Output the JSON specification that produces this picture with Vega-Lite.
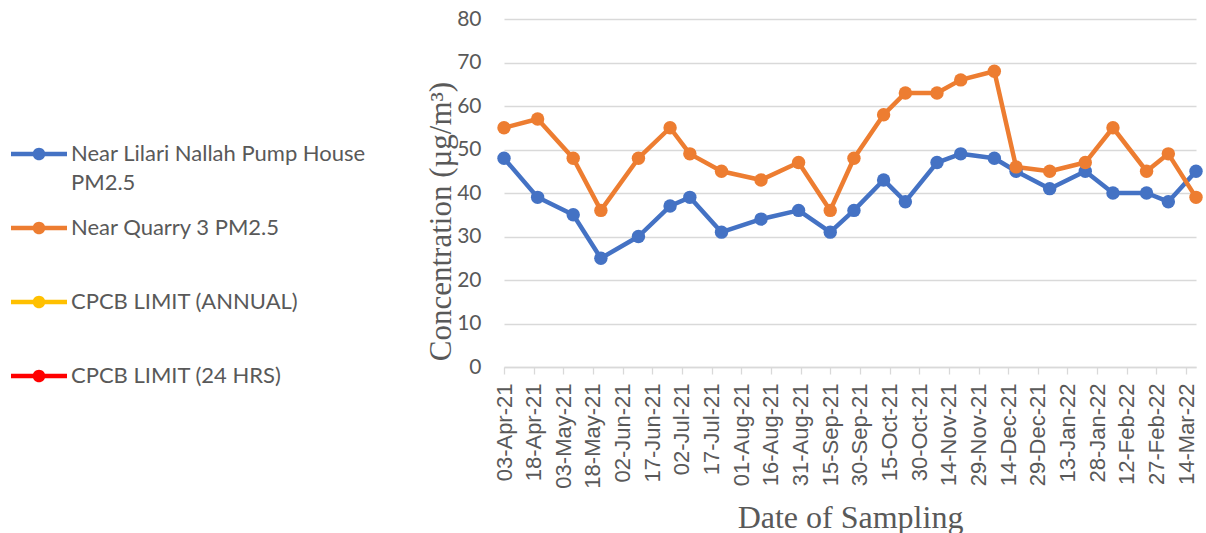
{
  "$schema": "https://vega.github.io/schema/vega-lite/v6.json",
  "autosize": {"type": "none"},
  "padding": {"left": 504, "top": 19, "right": 10, "bottom": 166},
  "width": 692,
  "height": 348,
  "background": "white",
  "config": {
    "view": {"stroke": null},
    "style": {"guide-label": {"lineHeight": 29}},
    "legend": {
      "title": null,
      "orient": "none",
      "legendX": -476,
      "legendY": 124,
      "padding": 0,
      "direction": "vertical",
      "symbolType": "M-4,-0.32H4V0.32H-4Z M-0.9,0A0.9,0.9,0,1,1,0.9,0A0.9,0.9,0,1,1,-0.9,0Z",
      "symbolSize": 196,
      "symbolStrokeWidth": 0,
      "symbolOpacity": 1,
      "labelFont": "Lato",
      "labelFontSize": 22,
      "labelColor": "#595959",
      "labelOffset": 21,
      "labelLimit": 400,
      "labelBaseline": "middle",
      "rowPadding": 23
    }
  },
  "data": {"values": [
    {"date": "2021-04-03", "series": "Near Lilari Nallah Pump House PM2.5", "value": 48},
    {"date": "2021-04-20", "series": "Near Lilari Nallah Pump House PM2.5", "value": 39},
    {"date": "2021-05-08", "series": "Near Lilari Nallah Pump House PM2.5", "value": 35},
    {"date": "2021-05-22", "series": "Near Lilari Nallah Pump House PM2.5", "value": 25},
    {"date": "2021-06-10", "series": "Near Lilari Nallah Pump House PM2.5", "value": 30},
    {"date": "2021-06-26", "series": "Near Lilari Nallah Pump House PM2.5", "value": 37},
    {"date": "2021-07-06", "series": "Near Lilari Nallah Pump House PM2.5", "value": 39},
    {"date": "2021-07-22", "series": "Near Lilari Nallah Pump House PM2.5", "value": 31},
    {"date": "2021-08-11", "series": "Near Lilari Nallah Pump House PM2.5", "value": 34},
    {"date": "2021-08-30", "series": "Near Lilari Nallah Pump House PM2.5", "value": 36},
    {"date": "2021-09-15", "series": "Near Lilari Nallah Pump House PM2.5", "value": 31},
    {"date": "2021-09-27", "series": "Near Lilari Nallah Pump House PM2.5", "value": 36},
    {"date": "2021-10-12", "series": "Near Lilari Nallah Pump House PM2.5", "value": 43},
    {"date": "2021-10-23", "series": "Near Lilari Nallah Pump House PM2.5", "value": 38},
    {"date": "2021-11-08", "series": "Near Lilari Nallah Pump House PM2.5", "value": 47},
    {"date": "2021-11-20", "series": "Near Lilari Nallah Pump House PM2.5", "value": 49},
    {"date": "2021-12-07", "series": "Near Lilari Nallah Pump House PM2.5", "value": 48},
    {"date": "2021-12-18", "series": "Near Lilari Nallah Pump House PM2.5", "value": 45},
    {"date": "2022-01-04", "series": "Near Lilari Nallah Pump House PM2.5", "value": 41},
    {"date": "2022-01-22", "series": "Near Lilari Nallah Pump House PM2.5", "value": 45},
    {"date": "2022-02-05", "series": "Near Lilari Nallah Pump House PM2.5", "value": 40},
    {"date": "2022-02-22", "series": "Near Lilari Nallah Pump House PM2.5", "value": 40},
    {"date": "2022-03-05", "series": "Near Lilari Nallah Pump House PM2.5", "value": 38},
    {"date": "2022-03-19", "series": "Near Lilari Nallah Pump House PM2.5", "value": 45},
    {"date": "2021-04-03", "series": "Near Quarry 3 PM2.5", "value": 55},
    {"date": "2021-04-20", "series": "Near Quarry 3 PM2.5", "value": 57},
    {"date": "2021-05-08", "series": "Near Quarry 3 PM2.5", "value": 48},
    {"date": "2021-05-22", "series": "Near Quarry 3 PM2.5", "value": 36},
    {"date": "2021-06-10", "series": "Near Quarry 3 PM2.5", "value": 48},
    {"date": "2021-06-26", "series": "Near Quarry 3 PM2.5", "value": 55},
    {"date": "2021-07-06", "series": "Near Quarry 3 PM2.5", "value": 49},
    {"date": "2021-07-22", "series": "Near Quarry 3 PM2.5", "value": 45},
    {"date": "2021-08-11", "series": "Near Quarry 3 PM2.5", "value": 43},
    {"date": "2021-08-30", "series": "Near Quarry 3 PM2.5", "value": 47},
    {"date": "2021-09-15", "series": "Near Quarry 3 PM2.5", "value": 36},
    {"date": "2021-09-27", "series": "Near Quarry 3 PM2.5", "value": 48},
    {"date": "2021-10-12", "series": "Near Quarry 3 PM2.5", "value": 58},
    {"date": "2021-10-23", "series": "Near Quarry 3 PM2.5", "value": 63},
    {"date": "2021-11-08", "series": "Near Quarry 3 PM2.5", "value": 63},
    {"date": "2021-11-20", "series": "Near Quarry 3 PM2.5", "value": 66},
    {"date": "2021-12-07", "series": "Near Quarry 3 PM2.5", "value": 68},
    {"date": "2021-12-18", "series": "Near Quarry 3 PM2.5", "value": 46},
    {"date": "2022-01-04", "series": "Near Quarry 3 PM2.5", "value": 45},
    {"date": "2022-01-22", "series": "Near Quarry 3 PM2.5", "value": 47},
    {"date": "2022-02-05", "series": "Near Quarry 3 PM2.5", "value": 55},
    {"date": "2022-02-22", "series": "Near Quarry 3 PM2.5", "value": 45},
    {"date": "2022-03-05", "series": "Near Quarry 3 PM2.5", "value": 49},
    {"date": "2022-03-19", "series": "Near Quarry 3 PM2.5", "value": 39}
  ]},
  "encoding": {
    "x": {
      "field": "date", "type": "temporal",
      "scale": {"type": "utc", "nice": false, "domain": [
        {"year": 2021, "month": 4, "date": 3, "utc": true},
        {"year": 2022, "month": 3, "date": 19, "utc": true}
      ]},
      "axis": {
        "title": "Date of Sampling",
        "format": "%d-%b-%y",
        "values": [
          {"year": 2021, "month": 4, "date": 3, "utc": true},
          {"year": 2021, "month": 4, "date": 18, "utc": true},
          {"year": 2021, "month": 5, "date": 3, "utc": true},
          {"year": 2021, "month": 5, "date": 18, "utc": true},
          {"year": 2021, "month": 6, "date": 2, "utc": true},
          {"year": 2021, "month": 6, "date": 17, "utc": true},
          {"year": 2021, "month": 7, "date": 2, "utc": true},
          {"year": 2021, "month": 7, "date": 17, "utc": true},
          {"year": 2021, "month": 8, "date": 1, "utc": true},
          {"year": 2021, "month": 8, "date": 16, "utc": true},
          {"year": 2021, "month": 8, "date": 31, "utc": true},
          {"year": 2021, "month": 9, "date": 15, "utc": true},
          {"year": 2021, "month": 9, "date": 30, "utc": true},
          {"year": 2021, "month": 10, "date": 15, "utc": true},
          {"year": 2021, "month": 10, "date": 30, "utc": true},
          {"year": 2021, "month": 11, "date": 14, "utc": true},
          {"year": 2021, "month": 11, "date": 29, "utc": true},
          {"year": 2021, "month": 12, "date": 14, "utc": true},
          {"year": 2021, "month": 12, "date": 29, "utc": true},
          {"year": 2022, "month": 1, "date": 13, "utc": true},
          {"year": 2022, "month": 1, "date": 28, "utc": true},
          {"year": 2022, "month": 2, "date": 12, "utc": true},
          {"year": 2022, "month": 2, "date": 27, "utc": true},
          {"year": 2022, "month": 3, "date": 14, "utc": true}
        ],
        "labelAngle": -90,
        "labelAlign": "right",
        "labelBaseline": "middle",
        "labelFont": "Liberation Sans",
        "labelFontSize": 22,
        "labelColor": "#595959",
        "labelPadding": 9,
        "labelOverlap": false,
        "labelFlush": false,
        "grid": false,
        "domain": true,
        "domainColor": "#D9D9D9",
        "domainWidth": 1.3,
        "ticks": true,
        "tickColor": "#D9D9D9",
        "tickWidth": 1.3,
        "tickSize": 7,
        "titleFont": "Liberation Serif",
        "titleFontSize": 32,
        "titleFontWeight": "normal",
        "titleColor": "#595959",
        "titleAnchor": "middle",
        "titleBaseline": "alphabetic",
        "titleY": 160
      }
    },
    "y": {
      "field": "value", "type": "quantitative",
      "scale": {"domain": [0, 80], "nice": false},
      "axis": {
        "title": "Concentration (µg/m³)",
        "values": [0, 10, 20, 30, 40, 50, 60, 70, 80],
        "labelFont": "Lato",
        "labelFontSize": 21,
        "labelColor": "#595959",
        "labelPadding": 23,
        "ticks": false,
        "tickSize": 0,
        "domain": false,
        "grid": true,
        "gridColor": "#D9D9D9",
        "gridWidth": 1.3,
        "titleFont": "Liberation Serif",
        "titleFontSize": 31,
        "titleFontWeight": "normal",
        "titleColor": "#595959",
        "titleAngle": -90,
        "titleAlign": "center",
        "titleBaseline": "alphabetic",
        "titleX": -54,
        "titleY": 202
      }
    }
  },
  "layer": [
    {
      "mark": {"type": "line", "strokeWidth": 4.5, "strokeJoin": "round", "strokeCap": "round"},
      "encoding": {
        "color": {
          "field": "series", "type": "nominal",
          "scale": {
            "domain": ["Near Lilari Nallah Pump House PM2.5", "Near Quarry 3 PM2.5", "CPCB LIMIT (ANNUAL)", "CPCB LIMIT (24 HRS)"],
            "range": ["#4472C4", "#ED7D31", "#FFC000", "#FF0000"]
          },
          "legend": {
            "labelExpr": "datum.label == 'Near Lilari Nallah Pump House PM2.5' ? ['Near Lilari Nallah Pump House', 'PM2.5'] : [datum.label, '']"
          }
        }
      }
    },
    {
      "mark": {"type": "circle", "size": 180, "opacity": 1},
      "encoding": {
        "color": {
          "field": "series", "type": "nominal"
        }
      }
    }
  ]
}
